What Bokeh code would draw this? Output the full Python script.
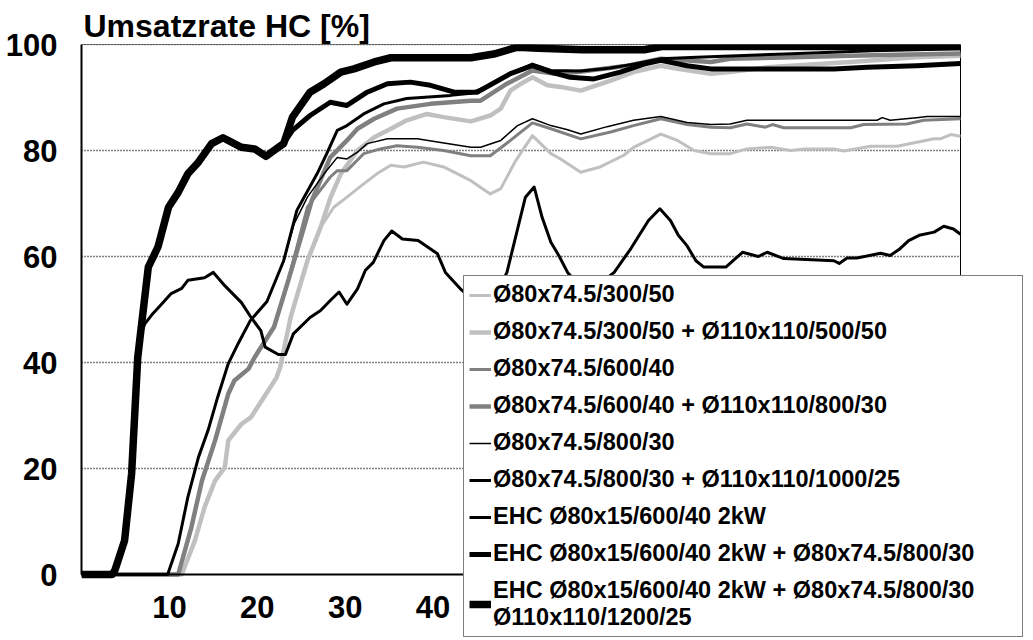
from bokeh.plotting import figure
from bokeh.models import Range1d, FixedTicker, Legend, LegendItem
from bokeh.embed import file_html
from bokeh.resources import INLINE

# ---------------- data ----------------
labels = [
    "Ø80x74.5/300/50",
    "Ø80x74.5/300/50 + Ø110x110/500/50",
    "Ø80x74.5/600/40",
    "Ø80x74.5/600/40 + Ø110x110/800/30",
    "Ø80x74.5/800/30",
    "Ø80x74.5/800/30 + Ø110x110/1000/25",
    "EHC Ø80x15/600/40 2kW",
    "EHC Ø80x15/600/40 2kW + Ø80x74.5/800/30",
    "EHC Ø80x15/600/40 2kW + Ø80x74.5/800/30\nØ110x110/1200/25",
]

x1 = [0, 11.4, 12.9, 14, 15.2, 16.3, 16.7, 18.2, 19.3, 20.5, 22.2, 22.6, 23.8, 25.7, 27.2,
      28.7, 30.2, 32.1, 33.6, 35.2, 36.7, 38.9, 41.2, 44.3, 46.5, 47.7, 49.4, 51.3, 53.4,
      54.5, 56.8, 59, 61.7, 62.8, 65.9, 67.8, 69.7, 71.6, 73.8, 75.7, 78.4, 80.7, 82.2,
      85.6, 86.7, 89.8, 92.8, 97, 97.7, 98.9, 100]
y1 = [0, 0, 6.4, 12.7, 17.7, 20.2, 25.3, 28.4, 29.7, 32.8, 37.2, 39.1, 48.6, 59.2, 65.5,
      69.3, 71.2, 73.7, 75.6, 77.2, 76.9, 77.8, 76.9, 74.3, 71.8, 72.8, 78.1, 82.8, 79.4,
      78.4, 75.9, 76.9, 79.1, 80.6, 83.1, 81.9, 80, 79.4, 79.4, 80.3, 80.6, 80, 80.3,
      80.3, 79.9, 80.8, 80.8, 82.2, 82.2, 83, 82.7]

x2 = [0, 11.4, 12.9, 14, 15.2, 16.3, 16.7, 18.2, 19.3, 20.5, 22.2, 22.6, 23.8, 25.7, 27.2,
      28.3, 29.5, 31.4, 33.3, 35.2, 37, 39.3, 41.2, 44.3, 46.5, 47.7, 48.8, 50, 51.3, 53,
      54.5, 56.8, 60.2, 62.8, 65.9, 67.8, 71.6, 73.8, 78, 87.5, 95, 100]
y2 = [0, 0, 6.4, 12.7, 17.7, 20.2, 25.3, 28.4, 29.7, 32.8, 37.2, 39.1, 48.6, 59.2, 65.5,
      71, 75.6, 80, 82.5, 84.1, 85.7, 86.9, 86.3, 85.5, 86.6, 87.9, 91.3, 92.6, 93.8, 92.3,
      92, 91.3, 93.2, 94.8, 96, 95.4, 94.5, 94.8, 95.7, 96.7, 97.6, 97.9]

x3 = [0, 11, 12.5, 13.7, 15.2, 16.7, 17.4, 19, 19.7, 21.9, 23.4, 25.7, 28.3, 29.1, 30.2,
      32.1, 34, 35.9, 38.2, 41.2, 44.3, 46.5, 48.8, 51.3, 53.4, 56.8, 60.2, 62.8, 65.9,
      68.9, 71.6, 73.8, 75.7, 77.8, 78.6, 79.9, 87.5, 89, 93.9, 95.8, 100]
y3 = [0, 0, 8.9, 17.7, 25.3, 34.1, 36.6, 38.8, 41, 46.7, 54.8, 69.3, 75, 76.2, 76.2,
      79.4, 80.3, 80.9, 80.6, 80, 79, 79, 81.9, 85.2, 84.1, 82.2, 83.5, 84.7, 86,
      84.9, 84.4, 84.3, 85, 84.4, 84.9, 84.3, 84.3, 84.9, 85, 85.7, 86]

x4 = [0, 11, 12.5, 13.7, 15.2, 16.7, 17.4, 19, 19.7, 21.9, 23.4, 25.1, 26.2, 28.3, 30.2,
      31.4, 33.3, 35.9, 39.7, 44.3, 45.4, 48.4, 51.3, 53.7, 56.4, 62.1, 65.9, 71.6, 73.8,
      87.5, 100]
y4 = [0, 0, 8.9, 17.7, 25.3, 34.1, 36.6, 38.8, 41, 46.7, 54.8, 64.3, 70.6, 78.7, 81.9,
      84.1, 86, 87.9, 88.8, 89.4, 89.4, 92.6, 95.1, 94.5, 94.8, 96, 97.3, 96.7, 97.3,
      97.9, 98.3]

x5 = [0, 9.8, 11, 12.1, 13.3, 14.4, 15.5, 16.7, 17.8, 19.2, 21.1, 23, 24.2, 25.7, 27.6,
      29.1, 30.2, 31.4, 32.5, 34.8, 38.2, 40.5, 44.3, 45.4, 47.7, 49.6, 51.3, 53.4, 55.3,
      56.8, 59.8, 62.8, 65.9, 68.9, 71.6, 73.8, 75.7, 90.5, 91.1, 92, 95, 96.2, 100]
y5 = [0, 0, 5.8, 14.6, 22.1, 27.2, 33.5, 39.8, 43.5, 47.9, 51.5, 59.2, 66.2, 71.2, 75.6,
      78.7, 78.4, 79.7, 81.3, 82.2, 82.2, 81.6, 80.6, 80.6, 81.9, 84.7, 86, 84.7, 83.9,
      83.1, 84.5, 85.7, 86.4, 85.3, 84.9, 85, 85.7, 85.7, 86.2, 85.7, 86.2, 86.4, 86.4]

x6 = [0, 9.8, 11, 12.1, 13.3, 14.4, 15.5, 16.7, 17.8, 19.2, 21.1, 23, 24.5, 26.8, 27.9,
      29.1, 30.2, 32.1, 34.4, 37, 42, 44.3, 46.5, 48.8, 51.3, 53.4, 56.8, 60, 62.8, 65.9,
      70, 80, 90, 100]
y6 = [0, 0, 5.8, 14.6, 22.1, 27.2, 33.5, 39.8, 43.5, 47.9, 51.5, 59.2, 68.7, 75.6, 79.4,
      83.8, 84.7, 86.9, 88.8, 89.8, 90.4, 90.8, 92.3, 94.5, 96.3, 95.1, 95, 95.5, 96.3, 97.3,
      97.6, 98.2, 98.8, 99.2]

x7 = [0, 3.5, 3.8, 4.9, 5.7, 6.1, 6.4, 6.8, 7.2, 8.0, 9.1, 10.2, 11.4, 12.1, 14, 15,
      16.3, 18.2, 19.3, 20.4, 20.9, 22.4, 23.2, 24.1, 26, 27.2, 28.3, 29.3, 30.2, 31.4,
      32.3, 33.2, 34.4, 35.3, 36.5, 38.3, 40.5, 41.4, 43.1, 45.5, 47.5, 48.4, 50.5, 51.5,
      52.4, 53.4, 54.3, 55.3, 57.5, 60.6, 62.5, 64.5, 65.8, 67, 67.9, 68.9, 69.9, 70.8,
      73.3, 75.2, 77, 78, 79.9, 85.6, 86.2, 87.1, 88.2, 90.9, 92, 93, 94.1, 95.3, 97,
      98.1, 99.2, 100]
y7 = [0, 0, 0.8, 6.4, 19, 31.6, 41, 45.5, 47.3, 49, 51, 53, 54, 55.5, 56, 57,
      54.5, 51.3, 48.5, 46, 42.9, 41.5, 41.5, 45.4, 48.5, 49.8, 51.7, 53.3, 51, 53.9,
      57.4, 58.9, 63, 64.8, 63.3, 63, 60.5, 57, 53.9, 50.5, 54, 57, 71.2, 73.1,
      67.4, 62.7, 60.2, 57, 53, 57, 61.5, 66.8, 69, 66.8, 64, 62, 59.2, 58,
      58, 60.8, 60, 60.8, 59.6, 59.2, 58.7, 59.7, 59.7, 60.6, 60.2, 61.3, 63, 64, 64.6,
      65.7, 65.2, 64.2]

x8 = [0, 3.5, 3.8, 4.9, 5.7, 6.1, 6.4, 6.8, 7.6, 8.7, 9.9, 11, 12.1, 13.3, 14.8, 16.1,
      18.2, 19.7, 21, 22.4, 23, 24, 26, 28.3, 30.2, 32.5, 34.8, 37.4, 39.7, 42.4, 45,
      48.8, 51.3, 53.4, 55.6, 58.3, 61.3, 64, 65.9, 68.9, 71.6, 85.6, 89.4, 95, 100]
y8 = [0, 0, 0.8, 6.4, 19, 31.6, 41, 46.7, 58, 61.8, 69.3, 72.1, 75.6, 77.8, 81.3, 82.4,
      80.6, 80.3, 78.9, 80.6, 81.3, 83.8, 86.6, 89.1, 88.5, 91, 92.6, 92.9, 92.3, 91, 91,
      94.5, 96, 94.8, 93.8, 93.5, 94.8, 96.3, 97, 96, 95.4, 95.4, 95.7, 96, 96.4]

x9 = [0, 3.5, 3.8, 4.9, 5.7, 6.1, 6.4, 6.8, 7.6, 8.7, 9.9, 11, 12.1, 13.3, 14.8, 16.1,
      18.2, 19.7, 21, 22.4, 23, 24, 26, 27.6, 29.5, 31, 33.3, 35.2, 44.3, 46.9, 49.6,
      52, 57, 64, 66, 100]
y9 = [0, 0, 0.8, 6.4, 19, 31.6, 41, 46.7, 58, 61.8, 69.3, 72.1, 75.6, 77.8, 81.3, 82.4,
      80.6, 80.3, 78.9, 80.6, 81.3, 86.3, 91, 92.6, 94.8, 95.4, 96.7, 97.5, 97.5, 98.2, 99.5,
      99.3, 99.0, 99.0, 99.6, 99.6]

xs = [x1, x2, x3, x4, x5, x6, x7, x8, x9]
ys = [y1, y2, y3, y4, y5, y6, y7, y8, y9]

x_ticks = [10, 20, 30, 40, 50, 60, 70, 80, 90]
y_ticks = [0, 20, 40, 60, 80, 100]
grid_levels = [20, 40, 60, 80, 100]
title_text = "Umsatzrate HC [%]"

# axis limits of the plot area
X_MIN, X_MAX = 0, 100
Y_MIN, Y_MAX = 0, 100

# ---------------- layout (pixels) ----------------
W, H = 1033, 640
AREA_L, AREA_R, AREA_T, AREA_B = 81, 960, 44, 574    # visible plot area
FRAME_R, FRAME_B = 1030, 640                          # frame extended to hold the legend
LEG_L, LEG_B = 463, 637                               # legend box left / bottom
px_x = (AREA_R - AREA_L) / (X_MAX - X_MIN)
px_y = (AREA_B - AREA_T) / (Y_MAX - Y_MIN)
x_end = X_MAX + (FRAME_R - AREA_R) / px_x
y_start = Y_MIN - (FRAME_B - AREA_B) / px_y

colors = ["#c0c0c0", "#c0c0c0", "#808080", "#808080", "#000000", "#000000", "#000000", "#000000", "#000000"]
widths = [3, 4.5, 3, 4.5, 1.5, 3, 3, 5, 7.5]
FONT = "Liberation Sans"

p = figure(width=W, height=H, output_backend="svg", toolbar_location=None,
           x_range=Range1d(X_MIN, x_end), y_range=Range1d(y_start, Y_MAX),
           min_border_left=AREA_L, min_border_right=W - FRAME_R,
           min_border_top=AREA_T, min_border_bottom=H - FRAME_B)

p.outline_line_color = None
p.xgrid.grid_line_color = None
p.ygrid.grid_line_color = None

# dotted horizontal grid, limited to the plot area
p.segment(x0=[X_MIN] * len(grid_levels), x1=[X_MAX] * len(grid_levels),
          y0=grid_levels, y1=grid_levels, line_color="black", line_width=1.3, line_dash="1 2")
# top and right border of the plot area
p.line([X_MIN, X_MAX, X_MAX], [Y_MAX, Y_MAX, Y_MIN], line_color="black", line_width=1)

for ax, ticks, bnds in ((p.xaxis, x_ticks, (X_MIN, X_MAX)), (p.yaxis, y_ticks, (Y_MIN, Y_MAX))):
    ax.ticker = FixedTicker(ticks=ticks)
    ax.bounds = bnds
    ax.major_tick_out = 0
    ax.major_tick_in = 0
    ax.minor_tick_out = 0
    ax.minor_tick_in = 0
    ax.axis_line_width = 2
    ax.axis_line_color = "black"
    ax.major_label_text_font = FONT
    ax.major_label_text_font_style = "bold"
    ax.major_label_text_font_size = "31px"
    ax.major_label_text_color = "black"
p.xaxis.fixed_location = Y_MIN
p.xaxis.major_label_standoff = 21
p.yaxis.major_label_standoff = 24

items = []
for i in range(9):
    r = p.line(xs[i], ys[i], line_color=colors[i], line_width=widths[i], line_join="round")
    items.append(LegendItem(label=labels[i], renderers=[r]))

legend = Legend(items=items, location=(LEG_L - AREA_L, FRAME_B - LEG_B))
legend.border_line_color = "black"
legend.border_line_width = 1.5
legend.background_fill_color = "white"
legend.background_fill_alpha = 1
legend.label_text_font = FONT
legend.label_text_font_style = "bold"
legend.label_text_font_size = "23.5px"
legend.label_text_color = "black"
legend.glyph_width = 22
legend.glyph_height = 26
legend.label_height = 26
legend.label_width = 524
legend.label_standoff = 2
legend.spacing = 10
legend.padding = 5
legend.margin = 0
p.add_layout(legend, "center")

p.title.text = title_text
p.title.align = "left"
p.title.offset = 2
p.title.standoff = 2
p.title.text_font = FONT
p.title.text_font_style = "bold"
p.title.text_font_size = "32px"
p.title.text_color = "black"

open("out.html", "w").write(file_html(p, INLINE))
